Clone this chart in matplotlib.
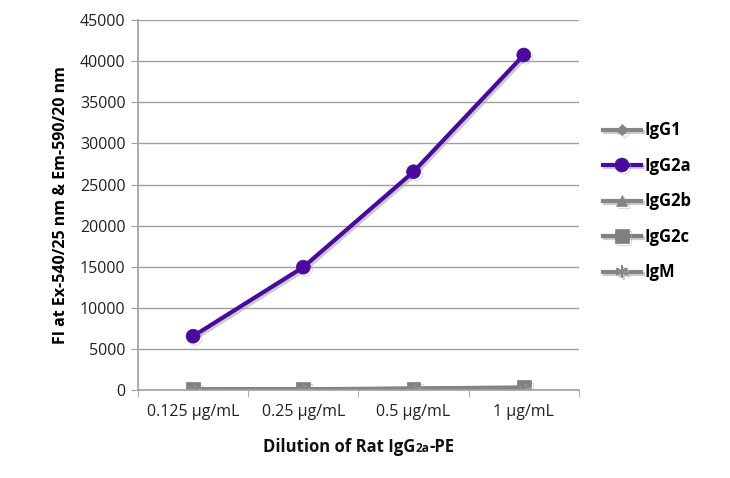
import matplotlib
matplotlib.use("Agg")
import matplotlib.pyplot as plt
import matplotlib.patheffects as pe
from matplotlib.offsetbox import TextArea, HPacker, AnchoredOffsetbox

plt.rcParams['font.family'] = ['Open Sans', 'DejaVu Sans']

# data
dilutions = ["0.125 µg/mL", "0.25 µg/mL", "0.5 µg/mL", "1 µg/mL"]
igg1 = [60, 80, 150, 250]
igg2a = [6550, 14950, 26550, 40750]
igg2b = [50, 70, 140, 240]
igg2c = [80, 100, 190, 320]
igm = [40, 60, 120, 200]

series = [
    ("IgG1", igg1, "D", "#858585", 6),
    ("IgG2a", igg2a, "o", "#4b0a9e", 10),
    ("IgG2b", igg2b, "^", "#858585", 8),
    ("IgG2c", igg2c, "s", "#7f7f7f", 10),
    ("IgM", igm, (6, 2, 0), "#858585", 9),
]

fig = plt.figure(figsize=(7.3, 4.78), dpi=100)
ax = fig.add_axes([0.189, 0.184, 0.604, 0.774])

x = list(range(len(dilutions)))
shadow = [pe.SimpleLineShadow(offset=(1.5, -1.5), shadow_color="#aaaaaa", alpha=0.6), pe.Normal()]
for name, vals, mk, col, ms in series:
    ax.plot(x, vals, color=col, lw=3, marker=mk, markersize=ms,
            markeredgewidth=1.2 if isinstance(mk, tuple) else 0.5, markeredgecolor=col,
            label=name, path_effects=shadow)

ax.set_xlim(-0.5, 3.5)
ax.set_ylim(0, 45000)
ax.set_yticks(range(0, 45001, 5000))
ax.set_xticks(x)
ax.set_xticklabels(dilutions)
ax.set_xticks([-0.5, 0.5, 1.5, 2.5, 3.5], minor=True)
ax.tick_params(axis="x", which="major", length=0, pad=10, labelsize=11.5, colors="#222222")
ax.tick_params(axis="x", which="minor", length=5, color="#a0a0a0", direction="out")
ax.tick_params(axis="y", length=5, color="#a0a0a0", labelsize=11.5, labelcolor="#222222", pad=4)
ax.yaxis.grid(True, color="#a0a0a0", lw=1)
ax.set_axisbelow(True)
for s in ["top", "right"]:
    ax.spines[s].set_visible(False)
for s in ["left", "bottom"]:
    ax.spines[s].set_color("#a0a0a0")
    ax.spines[s].set_linewidth(1.2)

ax.set_ylabel("FI at Ex-540/25 nm & Em-590/20 nm", fontsize=11.5, fontweight="bold", labelpad=8)

# x label with small "2a"
big = dict(fontsize=12, fontweight="bold", color="#111111")
small = dict(fontsize=8.5, fontweight="bold", color="#111111")
xl = HPacker(children=[TextArea("Dilution of Rat IgG", textprops=big),
                       TextArea("2a", textprops=small),
                       TextArea("-PE", textprops=big)],
             align="baseline", pad=0, sep=0)
box = AnchoredOffsetbox(loc="center", child=xl, frameon=False,
                        bbox_to_anchor=(0.5, -0.155), bbox_transform=ax.transAxes)
ax.add_artist(box)

leg = ax.legend(loc="center left", bbox_to_anchor=(1.02, 0.51), frameon=False,
                prop={"weight": "bold", "size": 12}, handlelength=2.3,
                labelspacing=1.05, handletextpad=0.2)

fig.savefig("out.png", dpi=100)
